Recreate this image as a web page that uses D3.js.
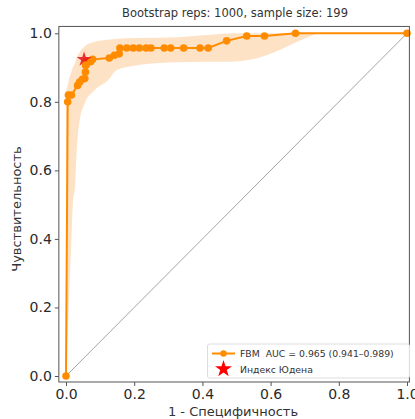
<!DOCTYPE html>
<html><head><meta charset="utf-8">
<script src="https://cdn.jsdelivr.net/npm/d3@7"></script>
<style>body{margin:0;background:#fff;}svg{display:block;font-family:"DejaVu Sans",sans-serif;}</style>
</head><body><svg id="c" width="415" height="419"></svg>
<script>
// ROC points
const fpr = [0, 0.005, 0.007, 0.016, 0.034, 0.04, 0.048, 0.055, 0.057, 0.058, 0.06, 0.072, 0.078, 0.127, 0.142, 0.156, 0.158, 0.178, 0.197, 0.215, 0.235, 0.249, 0.288, 0.307, 0.345, 0.393, 0.417, 0.471, 0.53, 0.582, 0.673, 1.0];
const tpr = [0, 0.80, 0.82, 0.82, 0.848, 0.858, 0.866, 0.868, 0.887, 0.907, 0.919, 0.917, 0.924, 0.928, 0.936, 0.94, 0.957, 0.957, 0.957, 0.957, 0.957, 0.957, 0.957, 0.957, 0.957, 0.957, 0.957, 0.978, 0.992, 0.992, 1.0, 1.0];
// Bootstrap CI band
const bandX = [0, 0.005, 0.01, 0.015, 0.02, 0.027, 0.03, 0.04, 0.055, 0.084, 0.123, 0.149, 0.2, 0.25, 0.3, 0.35, 0.4, 0.45, 0.5, 0.55, 0.6, 0.65, 0.7, 0.75, 1.0];
const bandLow = [0, 0.12, 0.25, 0.38, 0.5, 0.56, 0.63, 0.746, 0.796, 0.834, 0.863, 0.893, 0.905, 0.912, 0.915, 0.916, 0.917, 0.917, 0.918, 0.925, 0.94, 0.962, 0.985, 1.0, 1.0];
const bandHigh = [0.83, 0.85, 0.87, 0.885, 0.9, 0.915, 0.925, 0.945, 0.962, 0.975, 0.981, 0.984, 0.986, 0.987, 0.988, 0.99, 0.994, 0.998, 1.0, 1.0, 1.0, 1.0, 1.0, 1.0, 1.0];
const youden = [0.053, 0.924];
const ticks = [0, 0.2, 0.4, 0.6, 0.8, 1.0];
const title = "Bootstrap reps: 1000, sample size: 199";
const xLabel = "1 - Специфичность";
const yLabel = "Чувствительность";
const legendLabels = ["FBM\u00a0\u00a0AUC = 0.965 (0.941–0.989)", "Индекс Юдена"];

const svg = d3.select("#c");
const x = d3.scaleLinear().domain([0, 1]).range([66, 407]);
const y = d3.scaleLinear().domain([0, 1]).range([376, 33.3]);
const xmin = -0.021, xmax = 1.007, ymin = -0.0175, ymax = 1.02;
const orange = "#ff8c00";

// band
const band = bandX.map((d, i) => ({x: d, lo: bandLow[i], hi: bandHigh[i]}));
svg.append("path").datum(band)
  .attr("d", d3.area().x(d => x(d.x)).y0(d => y(d.lo)).y1(d => y(d.hi)).curve(d3.curveMonotoneX))
  .attr("fill", "#fde2c6").attr("stroke", "none");

// diagonal
svg.append("line").attr("x1", x(0)).attr("y1", y(0)).attr("x2", x(1)).attr("y2", y(1))
  .attr("stroke", "#9a9a9a").attr("stroke-width", 0.9);

// ROC line
const pts = fpr.map((d, i) => [d, tpr[i]]);
svg.append("path").datum(pts)
  .attr("d", d3.line().x(d => x(d[0])).y(d => y(d[1])))
  .attr("fill", "none").attr("stroke", orange).attr("stroke-width", 2);
svg.selectAll("circle.p").data(pts).enter().append("circle")
  .attr("cx", d => x(d[0])).attr("cy", d => y(d[1])).attr("r", 3.8).attr("fill", orange);

// Youden star
const star = d3.symbol().type(d3.symbolStar).size(70);
svg.append("path").attr("d", star()).attr("transform", `translate(${x(youden[0])},${y(youden[1])})`)
  .attr("fill", "#e8101a").attr("opacity", 0.85);
svg.append("circle").attr("cx", x(fpr[9])).attr("cy", y(tpr[9])).attr("r", 3.8).attr("fill", orange);

// frame
svg.append("rect").attr("x", x(xmin)).attr("y", y(ymax)).attr("width", x(xmax) - x(xmin)).attr("height", y(ymin) - y(ymax))
  .attr("fill", "none").attr("stroke", "#555").attr("stroke-width", 1);

// axes
const xa = svg.append("g").attr("transform", `translate(0,${y(ymin)})`)
  .call(d3.axisBottom(x).tickValues(ticks).tickFormat(d3.format(".1f")).tickSize(4).tickPadding(3));
const ya = svg.append("g").attr("transform", `translate(${x(xmin)},0)`)
  .call(d3.axisLeft(y).tickValues(ticks).tickFormat(d3.format(".1f")).tickSize(4).tickPadding(3));
[xa, ya].forEach(g => {
  g.select(".domain").remove();
  g.selectAll("line").attr("stroke", "#555");
  g.selectAll("text").attr("font-size", 14).attr("fill", "#2a2a2a").attr("font-family", "DejaVu Sans");
});

// title & labels
svg.append("text").attr("x", 235).attr("y", 17).attr("text-anchor", "middle").attr("font-size", 11.5).attr("fill", "#333").text(title);
svg.append("text").attr("x", 233).attr("y", 416).attr("text-anchor", "middle").attr("font-size", 13).attr("fill", "#333").text(xLabel);
svg.append("text").attr("transform", "translate(21,209) rotate(-90)").attr("text-anchor", "middle").attr("font-size", 13).attr("fill", "#333").text(yLabel);

// legend
const lg = svg.append("g");
lg.append("rect").attr("x", 207.5).attr("y", 344).attr("width", 202).attr("height", 34).attr("rx", 2)
  .attr("fill", "#fff").attr("fill-opacity", 0.85).attr("stroke", "#ddd");
lg.append("line").attr("x1", 212).attr("x2", 235).attr("y1", 353.5).attr("y2", 353.5).attr("stroke", orange).attr("stroke-width", 2);
lg.append("circle").attr("cx", 223.5).attr("cy", 353.5).attr("r", 3.2).attr("fill", orange);
lg.append("path").attr("d", d3.symbol().type(d3.symbolStar).size(90)()).attr("transform", "translate(223.5,369)").attr("fill", "#ff0000");
lg.selectAll("text.l").data(legendLabels).enter().append("text")
  .attr("x", 240).attr("y", (d, i) => 357 + i * 15.5).attr("font-size", 9.3).attr("fill", "#333").text(d => d);
</script></body></html>
